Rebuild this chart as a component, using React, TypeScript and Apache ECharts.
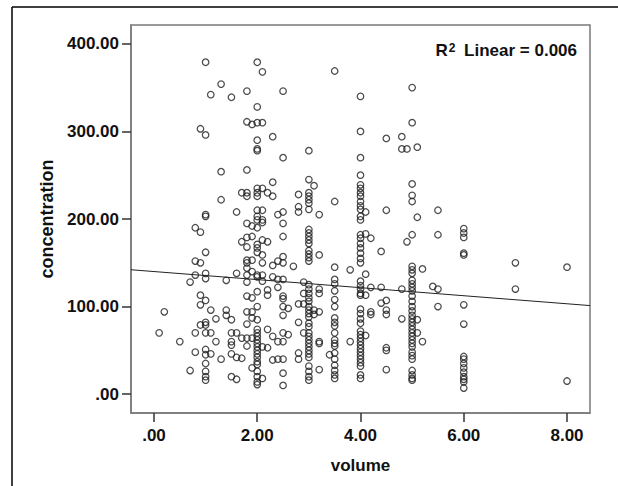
import React, { useEffect, useRef } from "react";
import * as echarts from "echarts";

// Volume values (x) and the concentration readings (y) observed at each volume
const volumes = [
  0.1, 0.2, 0.5, 0.7, 0.8, 0.9, 1.0, 1.1, 1.2, 1.3, 1.4, 1.5, 1.6, 1.7, 1.8, 1.9,
  2.0, 2.1, 2.2, 2.3, 2.4, 2.5, 2.6, 2.7, 2.8, 2.9, 3.0, 3.1, 3.2, 3.4, 3.5, 3.8,
  4.0, 4.1, 4.2, 4.4, 4.5, 4.8, 4.9, 5.0, 5.1, 5.2, 5.4, 5.5, 6.0, 7.0, 8.0,
];

const concentrations: number[][] = [
  [70],
  [94],
  [60],
  [27, 128],
  [190, 152, 136, 70, 48],
  [185, 150, 303, 113, 102, 79],
  [379, 296, 205, 203, 162, 138, 132, 107, 82, 79, 70, 51, 45, 35, 26, 20, 16],
  [342, 96, 70, 46],
  [86, 60],
  [354, 254, 222, 40],
  [130, 96, 90],
  [339, 85, 70, 60, 56, 46, 20],
  [208, 138, 70, 42, 17],
  [230, 174, 64, 41],
  [346, 311, 256, 230, 226, 195, 179, 168, 153, 150, 144, 136, 128, 112, 94, 80, 64, 55],
  [308, 192, 180, 153, 140, 110, 94, 87, 64, 30],
  [379, 328, 310, 290, 280, 278, 235, 230, 226, 210, 203, 199, 190, 171, 167, 162, 136, 134, 117, 100, 85, 74, 70, 66, 62, 58, 54, 50, 46, 42, 37, 34, 26, 20, 14, 11],
  [368, 310, 235, 210, 199, 196, 176, 159, 150, 136, 129, 54, 18],
  [230, 174, 119, 113, 74, 53],
  [294, 242, 226, 147, 134, 66, 39],
  [205, 152, 131, 122, 60, 40],
  [346, 270, 208, 195, 180, 157, 150, 131, 112, 109, 100, 90, 70, 60, 40, 24, 10],
  [98, 68],
  [146],
  [228, 214, 208, 103, 82, 47, 40],
  [128, 115, 103, 70],
  [278, 245, 230, 226, 222, 218, 211, 188, 184, 180, 176, 172, 164, 160, 156, 152, 125, 120, 115, 110, 106, 100, 96, 92, 88, 81, 77, 70, 66, 62, 58, 54, 50, 46, 42, 32, 26, 20, 16],
  [238, 96, 91],
  [205, 159, 120, 115, 94, 60, 58, 28],
  [45],
  [369, 220, 145, 131, 126, 118, 108, 100, 87, 82, 78, 70, 62, 58, 55, 47, 40, 33, 27, 22, 18],
  [142, 60],
  [340, 300, 270, 250, 239, 235, 230, 226, 220, 215, 211, 203, 199, 182, 178, 172, 167, 161, 155, 150, 129, 124, 120, 115, 113, 97, 92, 86, 81, 72, 68, 64, 60, 56, 52, 48, 44, 40, 36, 32, 22, 18],
  [208, 183, 137, 113, 67],
  [178, 122, 94, 91],
  [163, 122, 104],
  [292, 210, 107, 96, 91, 53, 50, 28],
  [294, 280, 120, 86],
  [280, 174],
  [350, 310, 240, 227, 220, 182, 146, 142, 138, 130, 126, 122, 118, 112, 106, 100, 95, 90, 86, 82, 78, 74, 70, 66, 62, 58, 54, 48, 44, 40, 27, 22, 18, 16],
  [282, 202, 85, 70],
  [143, 60],
  [123],
  [210, 182, 120, 100],
  [189, 184, 179, 161, 159, 102, 80, 43, 40, 35, 30, 25, 20, 17, 14, 7],
  [150, 120],
  [145, 15],
];

// Tick values
const xTicks = [0, 2, 4, 6, 8];
const yTicks = [0, 100, 200, 300, 400];

// Fit line (as displayed): concentration = intercept + slope * volume
const fitIntercept = 140;
const fitSlope = -4.6;
const rSquaredLabel = "0.006";

const X_MIN = -0.445;
const X_MAX = 8.445;
const Y_MIN = -21.5;
const Y_MAX = 421.5;

const fmt = (v: number) => (v === 0 ? ".00" : v.toFixed(2));

export default function App() {
  const ref = useRef<HTMLDivElement>(null);

  useEffect(() => {
    if (!ref.current) return;
    const chart = echarts.init(ref.current, undefined, { renderer: "svg" });

    const points: number[][] = [];
    volumes.forEach((v, i) => {
      concentrations[i].forEach((c) => points.push([v, c]));
    });

    const fitData = [
      [X_MIN, fitIntercept + fitSlope * X_MIN],
      [X_MAX, fitIntercept + fitSlope * X_MAX],
    ];

    const axisColor = "#7a7a7a";
    const labelFont = {
      color: "#111",
      fontFamily: "Liberation Sans, Arial, sans-serif",
      fontWeight: "bold" as const,
      fontSize: 17,
    };

    chart.setOption({
      animation: false,
      backgroundColor: "#ffffff",
      grid: {
        left: 131,
        top: 25,
        width: 459,
        height: 388,
        show: true,
        borderColor: axisColor,
        borderWidth: 1.5,
        backgroundColor: "transparent",
      },
      xAxis: {
        type: "value",
        min: X_MIN,
        max: X_MAX,
        name: "volume",
        nameLocation: "middle",
        nameGap: 44,
        nameTextStyle: labelFont,
        axisLine: { show: true, onZero: false, lineStyle: { color: axisColor, width: 1.5 } },
        axisTick: {
          show: true,
          length: 9,
          customValues: xTicks,
          lineStyle: { color: "#333", width: 1.5 },
        },
        axisLabel: {
          ...labelFont,
          margin: 14,
          customValues: xTicks,
          formatter: (v: number) => fmt(v),
        },
        splitLine: { show: false },
      },
      yAxis: {
        type: "value",
        min: Y_MIN,
        max: Y_MAX,
        name: "concentration",
        nameLocation: "middle",
        nameGap: 72,
        nameRotate: 90,
        nameTextStyle: { ...labelFont, fontSize: 18 },
        axisLine: { show: true, onZero: false, lineStyle: { color: axisColor, width: 1.5 } },
        axisTick: {
          show: true,
          length: 9,
          customValues: yTicks,
          lineStyle: { color: "#333", width: 1.5 },
        },
        axisLabel: {
          ...labelFont,
          margin: 12,
          customValues: yTicks,
          formatter: (v: number) => fmt(v),
        },
        splitLine: { show: false },
      },
      series: [
        {
          type: "scatter",
          data: points,
          symbol: "circle",
          symbolSize: 6.5,
          itemStyle: {
            color: "rgba(0,0,0,0)",
            borderColor: "#1e1e1e",
            borderWidth: 1.25,
          },
          silent: true,
          z: 2,
        },
        {
          type: "line",
          data: fitData,
          showSymbol: false,
          symbol: "none",
          lineStyle: { color: "#222", width: 1 },
          silent: true,
          z: 3,
        },
      ],
      graphic: [
        {
          type: "line",
          shape: { x1: 12, y1: 7, x2: 618, y2: 7 },
          style: { stroke: "#000", lineWidth: 1.5 },
        },
        {
          type: "line",
          shape: { x1: 12, y1: 7, x2: 12, y2: 486 },
          style: { stroke: "#000", lineWidth: 1.5 },
        },
        {
          type: "text",
          x: 577,
          y: 50,
          style: {
            text: "{a|R}{s|2}{a| Linear = " + rSquaredLabel + "}",
            align: "right",
            verticalAlign: "middle",
            rich: {
              a: {
                fontFamily: "Liberation Sans, Arial, sans-serif",
                fontWeight: "bold",
                fontSize: 17,
                fill: "#111",
                color: "#111",
                verticalAlign: "bottom",
              },
              s: {
                fontFamily: "Liberation Sans, Arial, sans-serif",
                fontWeight: "bold",
                fontSize: 12,
                fill: "#111",
                color: "#111",
                verticalAlign: "top",
                padding: [0, 4, 0, 1],
              },
            },
          },
        },
      ],
    });

    return () => chart.dispose();
  }, []);

  return (
    <div
      ref={ref}
      style={{ position: "fixed", left: 0, top: 0, width: 618, height: 486 }}
    />
  );
}
